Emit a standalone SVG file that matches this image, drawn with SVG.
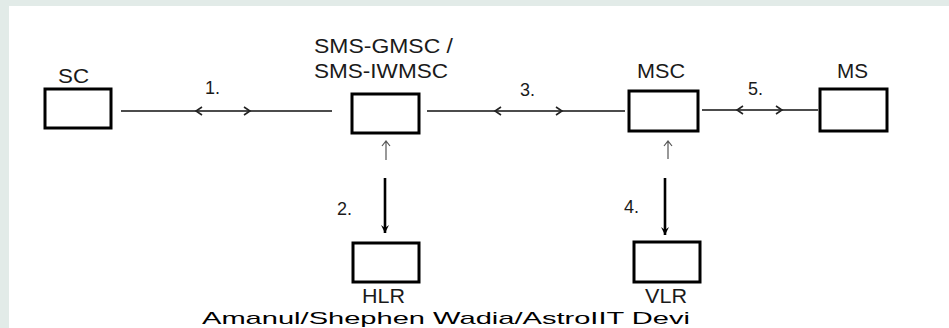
<svg xmlns="http://www.w3.org/2000/svg" width="949" height="328" viewBox="0 0 949 328">
<style>
.box{fill:#fff;stroke:#000;stroke-width:3}
.lbl{font-family:"Liberation Sans",Arial,sans-serif;font-size:20px;fill:#1a1a1a}
.num{font-family:"Liberation Sans",Arial,sans-serif;font-size:18px;fill:#1a1a1a}
.ln{stroke:#111;stroke-width:1.5;fill:none}
.chev{stroke:#222;stroke-width:1.6;fill:none}
.up{stroke:#555;stroke-width:1.2;fill:none}
.down{stroke:#000;stroke-width:2.6;fill:none}
.cap{font-family:"Liberation Sans",Arial,sans-serif;font-size:17px;fill:#000}
</style>
<defs>
<marker id="downHead" markerWidth="10" markerHeight="12" refX="5" refY="11" markerUnits="userSpaceOnUse">
<path d="M1,3 L5,11 L9,3 L5,6 Z" fill="#000"/>
</marker>
</defs>
<rect x="0" y="0" width="949" height="328" fill="#e2ebe8"/>
<rect x="9" y="6" width="940" height="322" fill="#fff"/>

<g id="connectors">
<line class="ln" x1="121" y1="111" x2="332" y2="111"/>
<polyline class="chev" points="202,107 196,111 202,115"/>
<polyline class="chev" points="244,107 250,111 244,115"/>
<line class="ln" x1="427" y1="111" x2="625" y2="111"/>
<polyline class="chev" points="501,107 495,111 501,115"/>
<polyline class="chev" points="556,107 562,111 556,115"/>
<line class="ln" x1="702" y1="110" x2="818" y2="110"/>
<polyline class="chev" points="743,106 737,110 743,114"/>
<polyline class="chev" points="776,106 782,110 776,114"/>
<path class="up" d="M386,160 L386,141 M382,146 L386,141 L390,146"/>
<line class="down" x1="385" y1="178" x2="385" y2="233" marker-end="url(#downHead)"/>
<path class="up" d="M668,159 L668,141 M664,146 L668,141 L672,146"/>
<line class="down" x1="665" y1="178" x2="665" y2="235" marker-end="url(#downHead)"/>
<text class="num" x="205" y="94">1.</text>
<text class="num" x="337" y="215">2.</text>
<text class="num" x="520" y="96">3.</text>
<text class="num" x="624" y="213">4.</text>
<text class="num" x="748" y="95">5.</text>
</g>

<g id="SC">
<rect class="box" x="45" y="89" width="66" height="39"/>
<text class="lbl" x="58" y="83" textLength="31" lengthAdjust="spacingAndGlyphs">SC</text>
</g>
<g id="SMS-GMSC">
<rect class="box" x="352" y="94" width="67" height="39"/>
<text class="lbl" x="314" y="53" textLength="139" lengthAdjust="spacingAndGlyphs">SMS-GMSC /</text>
<text class="lbl" x="314" y="78" textLength="134" lengthAdjust="spacingAndGlyphs">SMS-IWMSC</text>
</g>
<g id="MSC">
<rect class="box" x="629" y="91" width="69" height="40"/>
<text class="lbl" x="637" y="78" textLength="48" lengthAdjust="spacingAndGlyphs">MSC</text>
</g>
<g id="MS">
<rect class="box" x="820" y="89" width="67" height="42"/>
<text class="lbl" x="837" y="78" textLength="31" lengthAdjust="spacingAndGlyphs">MS</text>
</g>
<g id="HLR">
<rect class="box" x="353" y="243" width="66" height="39"/>
<text class="lbl" x="362" y="303" textLength="43" lengthAdjust="spacingAndGlyphs">HLR</text>
</g>
<g id="VLR">
<rect class="box" x="634" y="242" width="66" height="40"/>
<text class="lbl" x="645" y="303" textLength="42" lengthAdjust="spacingAndGlyphs">VLR</text>
</g>
<text class="cap" x="202" y="324" textLength="488" lengthAdjust="spacingAndGlyphs">Amanul/Shephen Wadia/AstroIIT Devi</text>
</svg>
